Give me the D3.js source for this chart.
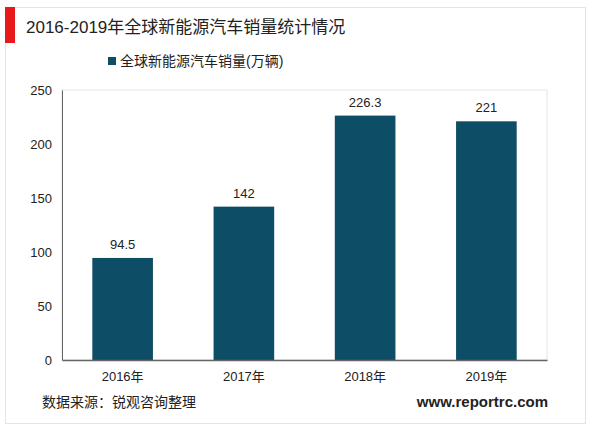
<!DOCTYPE html><html><head><meta charset="utf-8"><script src="https://cdn.jsdelivr.net/npm/d3@7"></script>
<style>body{margin:0;background:#fff}text{font-family:"Liberation Sans","Noto Sans CJK SC",sans-serif}</style></head><body><svg id="c" width="600" height="430"></svg><script>
const categories=["2016年","2017年","2018年","2019年"];
const values=[94.5,142,226.3,221];
const yTicks=[0,50,100,150,200,250];
const svg=d3.select("#c");
svg.append("rect").attr("x",5.5).attr("y",7.5).attr("width",580).attr("height",416).attr("fill","#fff").attr("stroke","#e3e3e3");
svg.append("rect").attr("x",5).attr("y",7).attr("width",10).attr("height",36).attr("fill","#e8191b");
svg.append("text").attr("x",26).attr("y",33).attr("font-size",17).attr("fill","#222").text("2016-2019年全球新能源汽车销量统计情况");
const L=62,R=547,T=90,B=360;
const x=d3.scaleBand().domain(categories).range([L,R]).paddingInner(0.5).paddingOuter(0.25);
const y=d3.scaleLinear().domain([0,250]).range([B,T]);
svg.append("rect").attr("x",L).attr("y",T).attr("width",R-L).attr("height",B-T).attr("fill","none").attr("stroke","#e6e6e6");
svg.append("g").selectAll("rect").data(values).join("rect").attr("x",(d,i)=>x(categories[i])).attr("width",x.bandwidth()).attr("y",d=>y(d)).attr("height",d=>B-y(d)).attr("fill","#0e4d66");
svg.append("g").selectAll("text").data(values).join("text").attr("x",(d,i)=>x(categories[i])+x.bandwidth()/2).attr("y",d=>y(d)-9).attr("text-anchor","middle").attr("font-size",13).attr("fill","#222").text(d=>d);
const ya=svg.append("g").attr("transform",`translate(${L},0)`).call(d3.axisLeft(y).tickValues(yTicks).tickSize(0).tickPadding(10));
ya.select(".domain").attr("stroke","#666");
const xa=svg.append("g").attr("transform",`translate(0,${B})`).call(d3.axisBottom(x).tickSize(0).tickPadding(12));
xa.select(".domain").attr("stroke","#666").attr("stroke-width",1.5);
svg.selectAll(".tick text").attr("font-size",13).attr("fill","#222").attr("font-family","Liberation Sans, Noto Sans CJK SC, sans-serif");
svg.append("rect").attr("x",108).attr("y",57).attr("width",8).attr("height",8).attr("fill","#0e4d66");
svg.append("text").attr("x",120).attr("y",66).attr("font-size",14).attr("fill","#222").text("全球新能源汽车销量(万辆)");
svg.append("text").attr("x",42).attr("y",407).attr("font-size",14).attr("fill","#222").text("数据来源：锐观咨询整理");
svg.append("text").attr("x",548).attr("y",407).attr("text-anchor","end").attr("font-size",15).attr("font-weight","bold").attr("fill","#222").text("www.reportrc.com");
</script></body></html>
